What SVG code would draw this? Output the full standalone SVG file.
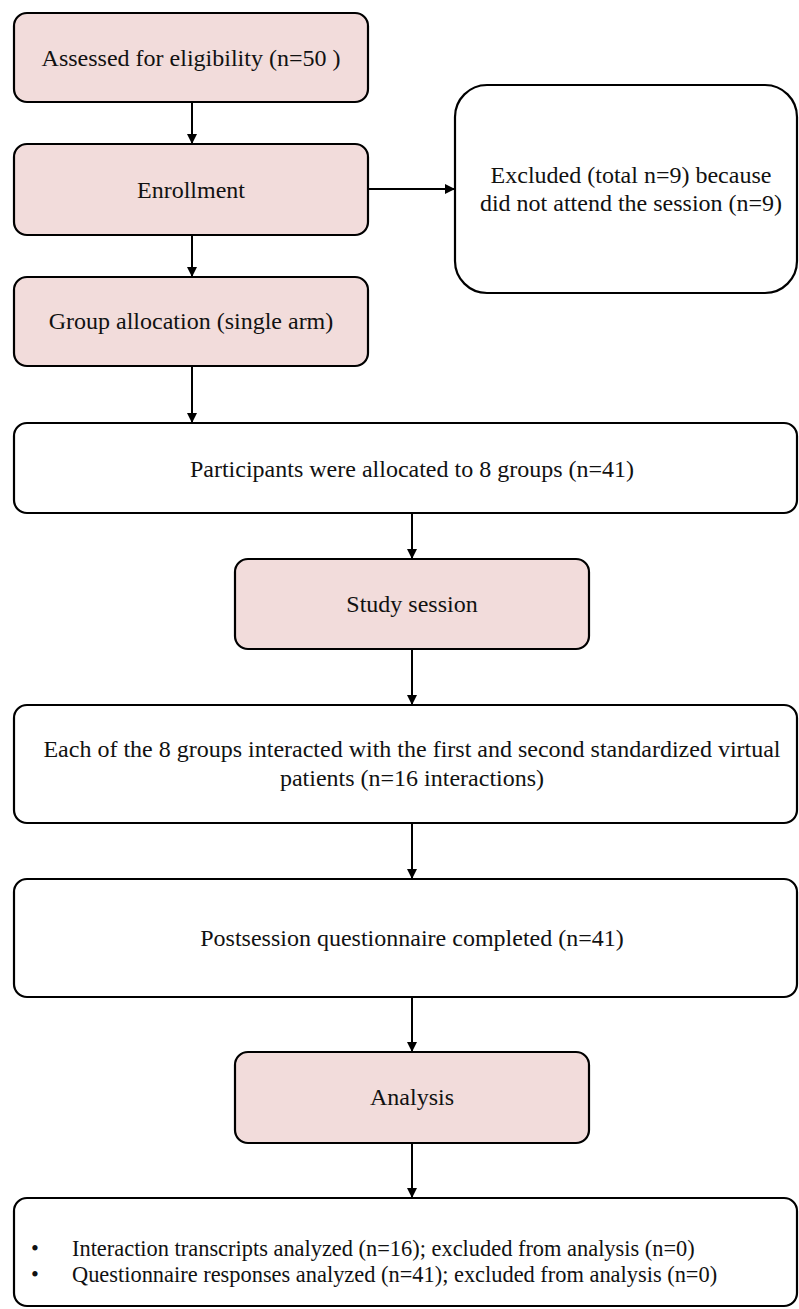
<svg xmlns="http://www.w3.org/2000/svg" width="799" height="1309" viewBox="0 0 799 1309">
<defs>
<style>
.pink{fill:#f2dcdb;stroke:#000;stroke-width:2.2}
.white{fill:#fff;stroke:#000;stroke-width:2.2}
text{font-family:"Liberation Serif","Times New Roman",serif;font-size:24px;fill:#111;text-anchor:middle}
.small{font-size:22.4px;text-anchor:start}
.conn{stroke:#000;stroke-width:2;fill:none;marker-end:url(#arr)}
</style>
<marker id="arr" viewBox="0 0 10 10" refX="10" refY="5" markerWidth="5" markerHeight="5" orient="auto" markerUnits="strokeWidth">
<path d="M0,0 L10,5 L0,10 z" fill="#000"/>
</marker>
</defs>
<rect width="799" height="1309" fill="#fff"/>
<g id="connectors">
<line class="conn" x1="192" y1="103" x2="192" y2="144"/>
<line class="conn" x1="192" y1="236" x2="192" y2="277"/>
<line class="conn" x1="368" y1="189" x2="455" y2="189"/>
<line class="conn" x1="192" y1="367" x2="192" y2="423"/>
<line class="conn" x1="412" y1="514" x2="412" y2="559"/>
<line class="conn" x1="412" y1="650" x2="412" y2="705"/>
<line class="conn" x1="412" y1="824" x2="412" y2="879"/>
<line class="conn" x1="412" y1="998" x2="412" y2="1052"/>
<line class="conn" x1="412" y1="1144" x2="412" y2="1198"/>
</g>
<g id="n1"><rect class="pink" x="14" y="13" width="354" height="89" rx="13"/><text x="191" y="66">Assessed for eligibility (n=50 )</text></g>
<g id="n2"><rect class="pink" x="14" y="144" width="354" height="91" rx="13"/><text x="191" y="198">Enrollment</text></g>
<g id="n3"><rect class="white" x="455" y="85" width="342" height="208" rx="32"/><text x="631" y="183">Excluded (total n=9) because</text><text x="631" y="211">did not attend the session (n=9)</text></g>
<g id="n4"><rect class="pink" x="14" y="277" width="354" height="89" rx="13"/><text x="191" y="329">Group allocation (single arm)</text></g>
<g id="n5"><rect class="white" x="14" y="423" width="783" height="90" rx="13"/><text x="412" y="477">Participants were allocated to 8 groups (n=41)</text></g>
<g id="n6"><rect class="pink" x="235" y="559" width="354" height="90" rx="13"/><text x="412" y="612">Study session</text></g>
<g id="n7"><rect class="white" x="14" y="705" width="783" height="118" rx="13"/><text x="412" y="757">Each of the 8 groups interacted with the first and second standardized virtual</text><text x="412" y="786">patients (n=16 interactions)</text></g>
<g id="n8"><rect class="white" x="14" y="879" width="783" height="118" rx="13"/><text x="412" y="946">Postsession questionnaire completed (n=41)</text></g>
<g id="n9"><rect class="pink" x="235" y="1052" width="354" height="91" rx="13"/><text x="412" y="1105">Analysis</text></g>
<g id="n10"><rect class="white" x="14" y="1198" width="783" height="108" rx="13"/>
<text class="small" x="31" y="1256">•</text><text class="small" x="72" y="1256">Interaction transcripts analyzed (n=16); excluded from analysis (n=0)</text>
<text class="small" x="31" y="1282">•</text><text class="small" x="72" y="1282">Questionnaire responses analyzed (n=41); excluded from analysis (n=0)</text></g>
</svg>
